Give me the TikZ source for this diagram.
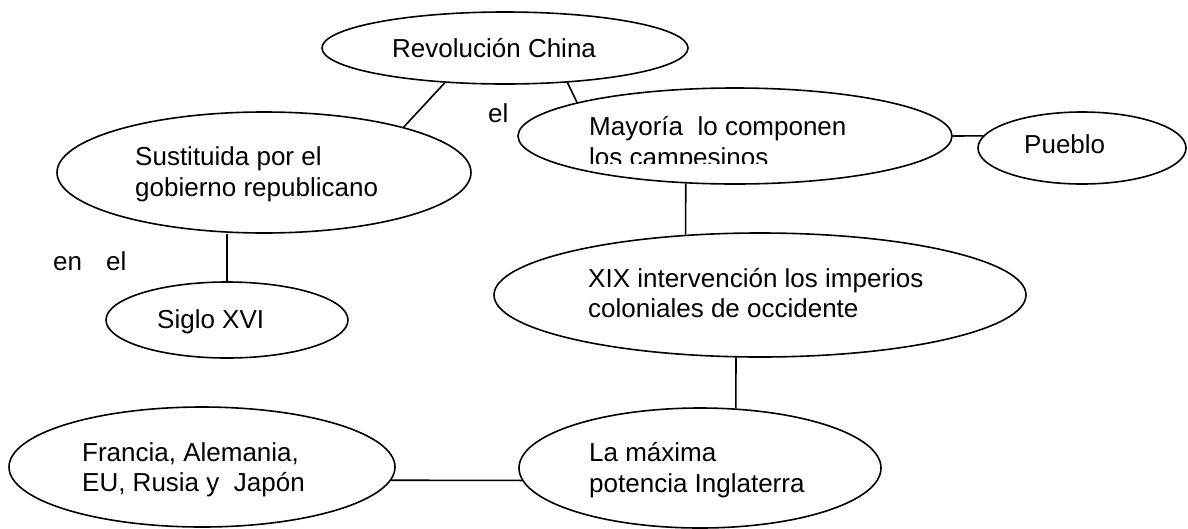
\documentclass[tikz,border=0pt]{standalone}
\usepackage{fontspec}
\setmainfont{Liberation Sans}
\usetikzlibrary{shapes.geometric}
\begin{document}
\begin{tikzpicture}[x=1pt,y=-1pt,
  ell/.style={draw, ellipse, line width=1.6pt, inner sep=0pt},
  txt/.style={anchor=base west, inner sep=0pt, font=\fontsize{26}{31}\selectfont},
  con/.style={line width=1.6pt}]
\useasboundingbox (0,0) rectangle (1188,528);
% ellipses
\node[ell, minimum width=366pt, minimum height=72pt]  (rev) at (505,48) {};
\node[ell, minimum width=414pt, minimum height=121pt] (sus) at (264,172.5) {};
\node[ell, minimum width=242pt, minimum height=76pt]  (sig) at (227,320) {};
\node[ell, minimum width=434pt, minimum height=96pt]  (may) at (735,136) {};
\node[ell, minimum width=208pt, minimum height=72pt]  (pue) at (1082,148) {};
\node[ell, minimum width=532pt, minimum height=124pt] (xix) at (760,295) {};
\node[ell, minimum width=362pt, minimum height=120pt] (lam) at (700,468) {};
\node[ell, minimum width=386pt, minimum height=120pt] (fra) at (202,467) {};
% texts
\node[txt] (trev) at (392,57) {Revolución China};
\node[txt] (tel) at (488,122) {el};
\node[txt] (tsus1) at (135,165) {Sustituida por el};
\node[txt] (tsus2) at (135,196) {gobierno republicano};
\node[txt] (tenel) at (53,270) {en\hspace{24pt}el};
\node[txt] (tsig) at (157,328) {Siglo XVI};
\node[txt] (tmay1) at (589,135) {Mayoría\ \ lo componen};
\begin{scope}
  \clip (580,140) rectangle (900,163);
  \node[txt] (tmay2) at (589,166) {los campesinos};
\end{scope}
\node[txt] (tpue) at (1024,153) {Pueblo};
\node[txt] (txix1) at (588,287) {XIX intervención los imperios};
\node[txt] (txix2) at (588,317) {coloniales de occidente};
\node[txt] (tlam1) at (589,461) {La máxima};
\node[txt] (tlam2) at (589,492) {potencia Inglaterra};
\node[txt] (tfra1) at (82,461) {Francia, Alemania,};
\node[txt] (tfra2) at (82,491) {EU, Rusia y\ \ Japón};
% connectors
\draw[con] (rev.210) -- (sus.18);
\draw[con] (rev.331) -- (may.168);
\draw[con] (sig.north |- sus.south) -- (sig.north);
\draw[con] (may.224) -- (xix.141);
\draw[con] (may.east) -- (pue.173);
\draw[con] (xix.249) -- (lam.59);
\draw[con] (fra.-4) -- (lam.184);
\end{tikzpicture}
\end{document}
